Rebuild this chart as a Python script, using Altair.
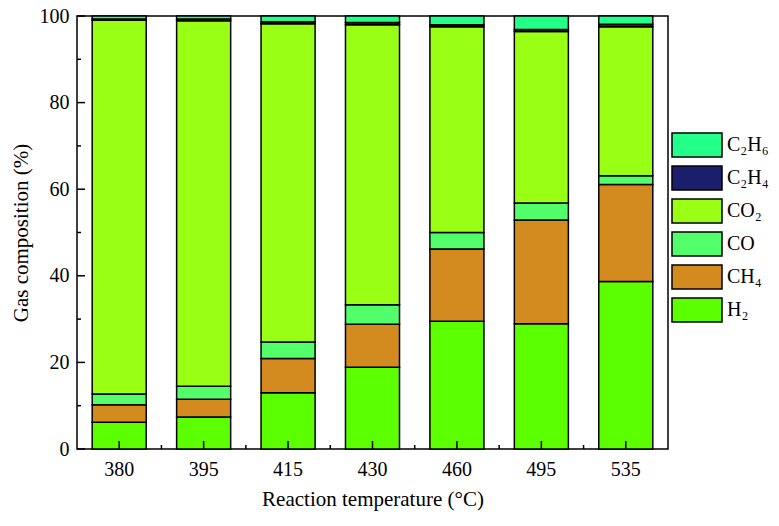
import altair as alt
import pandas as pd

categories = ["380", "395", "415", "430", "460", "495", "535"]
gases = ["H₂", "CH₄", "CO", "CO₂", "C₂H₄", "C₂H₆"]
h2 = [6.2, 7.4, 13.0, 18.9, 29.5, 28.9, 38.7]
ch4 = [4.0, 4.1, 7.9, 9.9, 16.7, 24.0, 22.4]
co = [2.5, 3.0, 3.8, 4.5, 3.8, 3.9, 2.0]
co2 = [86.3, 84.4, 73.5, 64.7, 47.5, 39.6, 34.4]
c2h4 = [0.3, 0.4, 0.5, 0.5, 0.5, 0.5, 0.6]
c2h6 = [0.7, 0.7, 1.3, 1.5, 2.0, 3.1, 1.9]
colors = ["#5CFF00", "#D38A1E", "#52FF6A", "#99FF14", "#1B1F6B", "#24FF8A"]

y_major = [0, 20, 40, 60, 80, 100]
y_minor = [10, 30, 50, 70, 90]

series = [h2, ch4, co, co2, c2h4, c2h6]
rows = []
for gi, (g, vals) in enumerate(zip(gases, series)):
    for c, v in zip(categories, vals):
        rows.append({"temp": c, "gas": g, "value": v, "order": gi})
df = pd.DataFrame(rows)

W, H = 591, 433
FONT = "Liberation Serif"

legend_order = gases[::-1]
color_scale = alt.Scale(domain=legend_order, range=colors[::-1])

bars = alt.Chart(df).mark_bar(stroke="black", strokeWidth=1.5).encode(
    x=alt.X(
        "temp:N",
        sort=categories,
        scale=alt.Scale(paddingInner=0.36, paddingOuter=0.18),
        axis=alt.Axis(
            title="Reaction temperature (°C)",
            labelAngle=0,
            ticks=False,
            domain=False,
            labelPadding=10,
            titlePadding=9,
        ),
    ),
    y=alt.Y(
        "value:Q",
        stack="zero",
        scale=alt.Scale(domain=[0, 100], nice=False),
        axis=alt.Axis(
            values=y_major,
            title="Gas composition (%)",
            ticks=False,
            domain=False,
            grid=False,
            labelPadding=8,
            titlePadding=8,
        ),
    ),
    color=alt.Color(
        "gas:N",
        scale=color_scale,
        legend=alt.Legend(
            orient="none",
            legendX=604,
            legendY=113,
            title=None,
            symbolType="M-1.667,-0.8H1.667V0.8H-1.667Z",
            symbolSize=900,
            symbolStrokeColor="black",
            symbolStrokeWidth=1.5,
            symbolOpacity=1,
            labelFont=FONT,
            labelFontSize=20,
            labelColor="black",
            labelOffset=14,
            rowPadding=2,
        ),
    ),
    order=alt.Order("order:Q", sort="ascending"),
)

xq = alt.Scale(domain=[0, len(categories)], nice=False, zero=False)
x_major = pd.DataFrame({"p": [i + 0.5 for i in range(len(categories))]})
x_minor = pd.DataFrame({"p": [i for i in range(1, len(categories))]})

xt_major = alt.Chart(x_major).mark_rule(color="black", strokeWidth=1.5).encode(
    x=alt.X("p:Q", scale=xq, axis=None), y=alt.value(H), y2=alt.value(H - 8)
)
xt_minor = alt.Chart(x_minor).mark_rule(color="black", strokeWidth=1.5).encode(
    x=alt.X("p:Q", scale=xq, axis=None), y=alt.value(H), y2=alt.value(H - 4)
)
yq = alt.Scale(domain=[0, 100], nice=False)
yt_major = alt.Chart(pd.DataFrame({"v": y_major})).mark_rule(color="black", strokeWidth=1.5).encode(
    y=alt.Y("v:Q", scale=yq, axis=None), x=alt.value(0), x2=alt.value(8)
)
yt_minor = alt.Chart(pd.DataFrame({"v": y_minor})).mark_rule(color="black", strokeWidth=1.5).encode(
    y=alt.Y("v:Q", scale=yq, axis=None), x=alt.value(0), x2=alt.value(4)
)

chart = (
    alt.layer(bars, xt_major, xt_minor, yt_major, yt_minor)
    .resolve_scale(x="independent", y="independent")
    .properties(
        width=W,
        height=H,
        padding={"left": 69, "top": 8, "right": 103, "bottom": 62},
        autosize=alt.AutoSizeParams(type="none"),
    )
    .configure_view(stroke="black", strokeWidth=1.5)
    .configure_axis(
        labelFont=FONT,
        labelFontSize=20,
        labelColor="black",
        titleFont=FONT,
        titleFontSize=21,
        titleFontWeight="normal",
        titleColor="black",
    )
)

chart.save("out.html", embed_options={"renderer": "svg", "actions": False})
